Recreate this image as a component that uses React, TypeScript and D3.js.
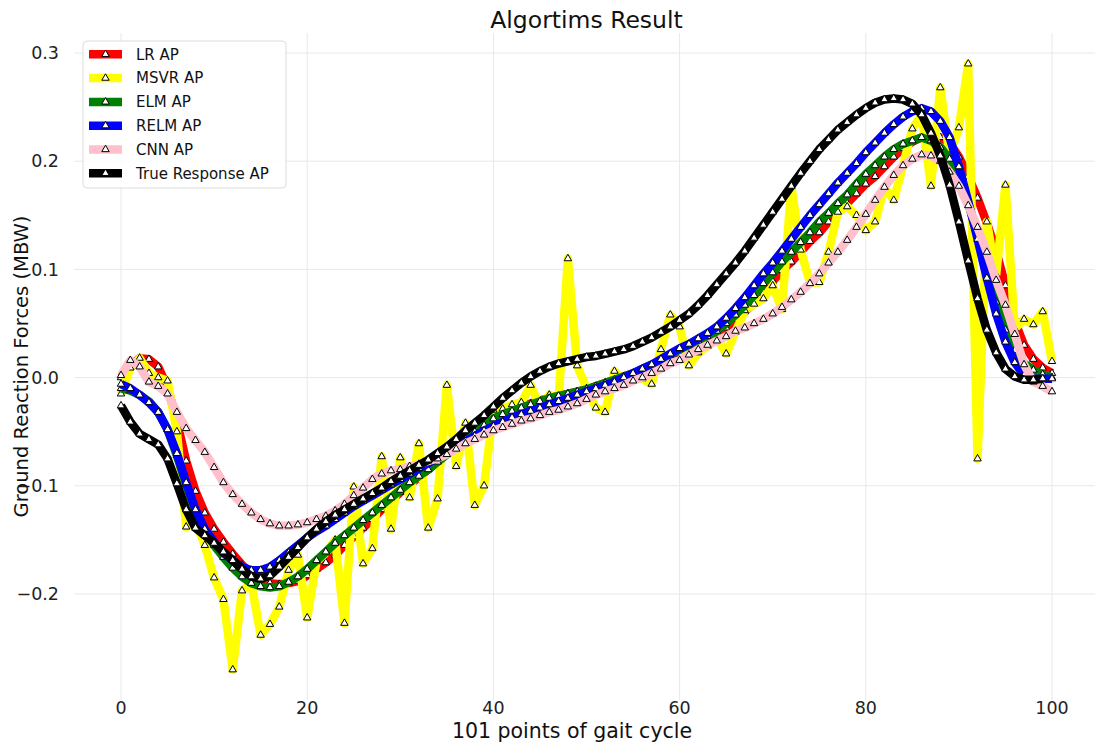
import React from "react";
import * as d3 from "d3";

const lrAP = [0.000,0.011,0.018,0.017,0.010,-0.009,-0.040,-0.077,-0.105,-0.125,
-0.140,-0.152,-0.163,-0.173,-0.181,-0.187,-0.190,-0.191,-0.190,-0.188,
-0.183,-0.177,-0.171,-0.164,-0.155,-0.147,-0.139,-0.131,-0.122,-0.114,
-0.106,-0.099,-0.092,-0.085,-0.078,-0.070,-0.063,-0.055,-0.047,-0.041,
-0.036,-0.033,-0.030,-0.027,-0.024,-0.021,-0.019,-0.017,-0.015,-0.013,
-0.011,-0.008,-0.005,-0.002,0.001,0.004,0.007,0.010,0.014,0.018,
0.022,0.026,0.030,0.035,0.040,0.046,0.054,0.061,0.069,0.078,
0.089,0.099,0.107,0.116,0.126,0.134,0.144,0.153,0.161,0.170,
0.179,0.186,0.195,0.204,0.212,0.218,0.222,0.223,0.222,0.217,
0.204,0.186,0.166,0.143,0.117,0.085,0.052,0.030,0.017,0.009,0.004];

const msvrAP = [-0.015,0.009,0.018,0.004,0.000,-0.003,-0.050,-0.138,-0.132,-0.155,
-0.185,-0.205,-0.270,-0.197,-0.190,-0.238,-0.228,-0.212,-0.178,-0.164,
-0.222,-0.170,-0.162,-0.150,-0.227,-0.101,-0.172,-0.158,-0.073,-0.140,
-0.074,-0.111,-0.061,-0.139,-0.112,-0.007,-0.082,-0.042,-0.118,-0.100,
-0.030,-0.029,-0.025,-0.023,-0.007,-0.027,-0.016,-0.020,0.110,0.011,
-0.010,-0.028,-0.032,0.006,-0.004,0.001,-0.001,-0.006,0.026,0.058,
0.047,0.011,0.023,0.029,0.037,0.022,0.042,0.062,0.068,0.073,
0.085,0.063,0.177,0.118,0.088,0.088,0.116,0.153,0.158,0.150,
0.136,0.144,0.176,0.164,0.196,0.230,0.243,0.177,0.268,0.205,
0.231,0.290,-0.075,0.144,0.095,0.178,0.045,0.054,0.049,0.061,0.015];

const elmAP = [-0.010,-0.012,-0.016,-0.022,-0.032,-0.048,-0.072,-0.099,-0.123,-0.141,
-0.155,-0.166,-0.176,-0.184,-0.190,-0.193,-0.194,-0.193,-0.189,-0.184,
-0.177,-0.169,-0.161,-0.153,-0.146,-0.139,-0.132,-0.125,-0.118,-0.111,
-0.104,-0.097,-0.091,-0.085,-0.078,-0.071,-0.064,-0.057,-0.050,-0.044,
-0.038,-0.034,-0.031,-0.028,-0.025,-0.022,-0.019,-0.017,-0.015,-0.013,
-0.011,-0.008,-0.005,-0.002,0.001,0.004,0.008,0.012,0.016,0.021,
0.026,0.030,0.034,0.038,0.043,0.050,0.058,0.067,0.076,0.087,
0.097,0.107,0.116,0.125,0.134,0.144,0.152,0.161,0.169,0.179,
0.188,0.196,0.204,0.211,0.216,0.219,0.222,0.219,0.213,0.202,
0.185,0.161,0.133,0.102,0.070,0.044,0.025,0.013,0.007,0.003,0.000];

const relmAP = [-0.006,-0.010,-0.016,-0.023,-0.032,-0.048,-0.070,-0.097,-0.122,-0.140,
-0.152,-0.162,-0.169,-0.175,-0.178,-0.178,-0.175,-0.169,-0.162,-0.155,
-0.148,-0.142,-0.137,-0.131,-0.125,-0.119,-0.114,-0.109,-0.104,-0.099,
-0.094,-0.089,-0.084,-0.079,-0.074,-0.069,-0.064,-0.059,-0.054,-0.049,
-0.045,-0.041,-0.037,-0.034,-0.031,-0.028,-0.025,-0.022,-0.019,-0.016,
-0.013,-0.010,-0.007,-0.004,0.000,0.004,0.008,0.012,0.017,0.022,
0.027,0.031,0.036,0.041,0.047,0.055,0.064,0.074,0.085,0.096,
0.106,0.117,0.128,0.139,0.150,0.160,0.170,0.180,0.189,0.198,
0.208,0.217,0.226,0.234,0.241,0.246,0.249,0.246,0.237,0.222,
0.195,0.163,0.128,0.092,0.059,0.033,0.014,0.002,-0.001,-0.001,-0.001];

const cnnAP = [0.002,0.016,0.010,-0.004,-0.008,-0.015,-0.032,-0.047,-0.058,-0.069,
-0.083,-0.097,-0.108,-0.117,-0.125,-0.131,-0.135,-0.137,-0.137,-0.136,
-0.134,-0.131,-0.128,-0.123,-0.117,-0.109,-0.102,-0.094,-0.089,-0.086,
-0.085,-0.082,-0.080,-0.077,-0.075,-0.071,-0.066,-0.061,-0.057,-0.053,
-0.049,-0.046,-0.043,-0.040,-0.038,-0.035,-0.032,-0.030,-0.027,-0.024,
-0.020,-0.016,-0.013,-0.010,-0.007,-0.003,0.000,0.004,0.008,0.013,
0.016,0.021,0.026,0.030,0.034,0.038,0.043,0.046,0.050,0.054,
0.059,0.065,0.072,0.079,0.087,0.096,0.106,0.116,0.127,0.139,
0.151,0.164,0.176,0.187,0.196,0.202,0.206,0.205,0.200,0.190,
0.177,0.159,0.139,0.116,0.090,0.067,0.040,0.012,-0.004,-0.008,-0.013];

const trueAP = [-0.026,-0.041,-0.052,-0.057,-0.062,-0.075,-0.098,-0.122,-0.139,-0.146,
-0.153,-0.161,-0.169,-0.177,-0.184,-0.186,-0.183,-0.175,-0.166,-0.157,
-0.148,-0.140,-0.133,-0.127,-0.122,-0.117,-0.112,-0.107,-0.102,-0.096,
-0.091,-0.086,-0.081,-0.076,-0.070,-0.064,-0.057,-0.049,-0.042,-0.035,
-0.027,-0.019,-0.012,-0.005,0.001,0.006,0.010,0.013,0.015,0.017,
0.019,0.020,0.022,0.024,0.026,0.029,0.033,0.037,0.042,0.047,
0.053,0.059,0.067,0.076,0.086,0.096,0.106,0.117,0.129,0.141,
0.153,0.165,0.177,0.189,0.200,0.211,0.220,0.229,0.236,0.243,
0.249,0.254,0.257,0.258,0.257,0.253,0.243,0.226,0.205,0.178,
0.144,0.108,0.073,0.044,0.023,0.008,0.001,-0.002,-0.002,-0.001];

const seriesNames = ["LR AP", "MSVR AP", "ELM AP", "RELM AP", "CNN AP", "True Response AP"];
const seriesColors = ["red", "yellow", "green", "blue", "pink", "black"];
const seriesData = [lrAP, msvrAP, elmAP, relmAP, cnnAP, trueAP];
const xTicks = [0, 20, 40, 60, 80, 100];
const yTicks = [-0.2, -0.1, 0.0, 0.1, 0.2, 0.3];

const W = 1095, H = 742;
const PL = 74.45, PR = 1098.55, PT = 33, PB = 700;
const FONT = "DejaVu Sans, sans-serif";

export default function App() {
  const x = d3.scaleLinear().domain([-5, 105]).range([PL, PR]);
  const y = d3.scaleLinear().domain([-0.298, 0.3185]).range([PB, PT]);
  const line = d3.line<number>().x((_, i) => x(i)).y((d) => y(d));
  const tri = d3.symbol().type(d3.symbolTriangle).size(24)() as string;
  const fmt = (v: number) => (v < 0 ? "\u2212" : "") + Math.abs(v).toFixed(1);

  return (
    <svg width={W} height={H} style={{ position: "absolute", left: 0, top: 0, background: "white" }} fontFamily={FONT}>
      <defs>
        <clipPath id="plot">
          <rect x={PL} y={PT} width={PR - PL} height={PB - PT} />
        </clipPath>
      </defs>
      <rect x={0} y={0} width={W} height={H} fill="white" />
      {xTicks.map((t) => (
        <line key={"gx" + t} x1={x(t)} x2={x(t)} y1={PT} y2={PB} stroke="#e8e8e8" strokeWidth={1} />
      ))}
      {yTicks.map((t) => (
        <line key={"gy" + t} x1={PL} x2={PR} y1={y(t)} y2={y(t)} stroke="#e8e8e8" strokeWidth={1} />
      ))}
      <g clipPath="url(#plot)">
        {seriesData.map((data, si) => (
          <g key={si}>
            <path d={line(data) as string} fill="none" stroke={seriesColors[si]} strokeWidth={8.5} strokeLinejoin="round" />
            {data.map((v, i) => (
              <path key={i} d={tri} transform={`translate(${x(i)},${y(v)})`} fill="white" stroke="black" strokeWidth={1} />
            ))}
          </g>
        ))}
      </g>
      {xTicks.map((t) => (
        <text key={"tx" + t} x={x(t)} y={714} textAnchor="middle" fontSize={17.5} fill="#222">{t}</text>
      ))}
      {yTicks.map((t) => (
        <text key={"ty" + t} x={59} y={y(t)} dy="0.35em" textAnchor="end" fontSize={17.5} fill="#222">{fmt(t)}</text>
      ))}
      <text x={(PL + PR) / 2} y={28} textAnchor="middle" fontSize={23.5} fill="#111">Algortims Result</text>
      <text x={572} y={737.5} textAnchor="middle" fontSize={20.5} fill="#111">101 points of gait cycle</text>
      <text transform={`translate(28,${(PT + PB) / 2}) rotate(-90)`} textAnchor="middle" fontSize={19.5} fill="#111">Ground Reaction Forces (MBW)</text>
      <g>
        <rect x={83} y={41} width={203} height={147} rx={4} fill="white" fillOpacity={0.85} stroke="#dcdcdc" strokeWidth={1} />
        {seriesNames.map((name, i) => {
          const cy = 54.3 + i * 23.8;
          return (
            <g key={name}>
              <line x1={89} x2={122} y1={cy} y2={cy} stroke={seriesColors[i]} strokeWidth={8.5} />
              <path d={tri} transform={`translate(105.5,${cy})`} fill="white" stroke="black" strokeWidth={1} />
              <text x={136} y={cy} dy="0.35em" fontSize={15} fill="#111">{name}</text>
            </g>
          );
        })}
      </g>
    </svg>
  );
}
